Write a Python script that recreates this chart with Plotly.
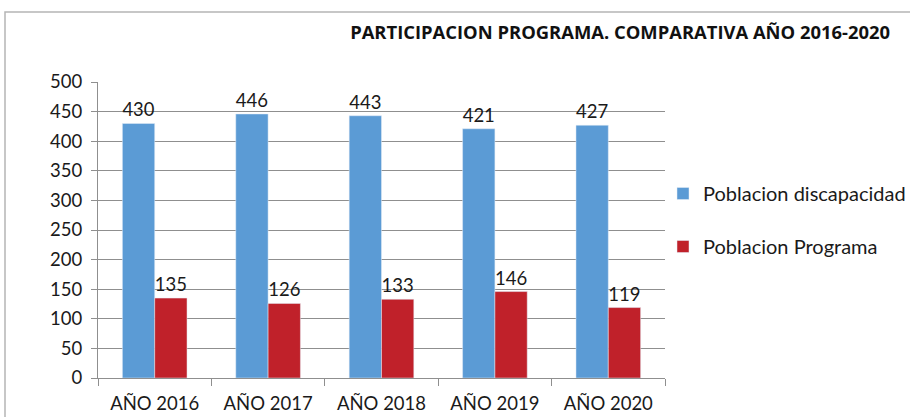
import plotly.graph_objects as go

categories = ["AÑO 2016", "AÑO 2017", "AÑO 2018", "AÑO 2019", "AÑO 2020"]
discapacidad = [430, 446, 443, 421, 427]
programa = [135, 126, 133, 146, 119]
series_names = ["Poblacion discapacidad", "Poblacion Programa"]
title_text = "PARTICIPACION PROGRAMA. COMPARATIVA AÑO 2016-2020"

W, H = 910, 417
L, R, T, B = 98, 245, 82, 39
pw, ph = W - L - R, H - T - B

FONT = "Lato, 'Open Sans', sans-serif"
TXT = "#1a1a1a"
FS = 18.5

fig = go.Figure()
fig.add_trace(go.Bar(
    x=categories, y=discapacidad, name=series_names[0],
    marker=dict(color="#5B9BD5"), text=discapacidad, textposition="outside",
    textfont=dict(size=FS, color=TXT, family=FONT), cliponaxis=False,
    legendgroup="a",
))
fig.add_trace(go.Bar(
    x=categories, y=programa, name=series_names[1],
    marker=dict(color="#C0212A"), text=programa, textposition="outside",
    textfont=dict(size=FS, color=TXT, family=FONT), cliponaxis=False,
    legendgroup="b",
))

fig.update_layout(
    width=W, height=H,
    margin=dict(l=L, r=R, t=T, b=B, autoexpand=False),
    paper_bgcolor="white", plot_bgcolor="white",
    barmode="group", bargap=0.43, bargroupgap=0,
    font=dict(family=FONT, size=FS, color=TXT),
    title=dict(text="<b>" + title_text + "</b>", x=890 / W, xanchor="right",
               y=1 - 33 / H, yanchor="middle", xref="container", yref="container",
               font=dict(size=18.4, color="#111111", family="'Open Sans', sans-serif")),
    legend=dict(xref="container", yref="container", x=663 / W, xanchor="left",
                y=1 - 220 / H, yanchor="middle",
                font=dict(size=20, color=TXT, family=FONT), tracegroupgap=24,
                bgcolor="rgba(0,0,0,0)"),
    showlegend=True,
)
fig.update_yaxes(range=[0, 500], dtick=50, showgrid=True, gridcolor="#8f8f8f", gridwidth=1,
                 showline=True, linecolor="#8f8f8f", ticks="outside", ticklen=6,
                 tickcolor="#8f8f8f", zeroline=False, tickfont=dict(size=FS, color=TXT),
                 ticklabelstandoff=5)
fig.update_xaxes(showline=True, linecolor="#8f8f8f", ticks="outside", tickson="boundaries",
                 ticklen=7, tickcolor="#8f8f8f", tickfont=dict(size=FS, color=TXT),
                 ticklabelstandoff=9)

# chart border
fig.add_shape(type="rect", xref="paper", yref="paper",
              x0=(5 - L) / pw, x1=(W + 20 - L) / pw,
              y0=(378 - (H + 20)) / ph, y1=(378 - 12) / ph,
              line=dict(color="#b5b5b5", width=1.5), fillcolor="rgba(0,0,0,0)", layer="below")

fig.write_html("out.html", config={"displayModeBar": False},
               post_script="document.body.style.margin='0';")
